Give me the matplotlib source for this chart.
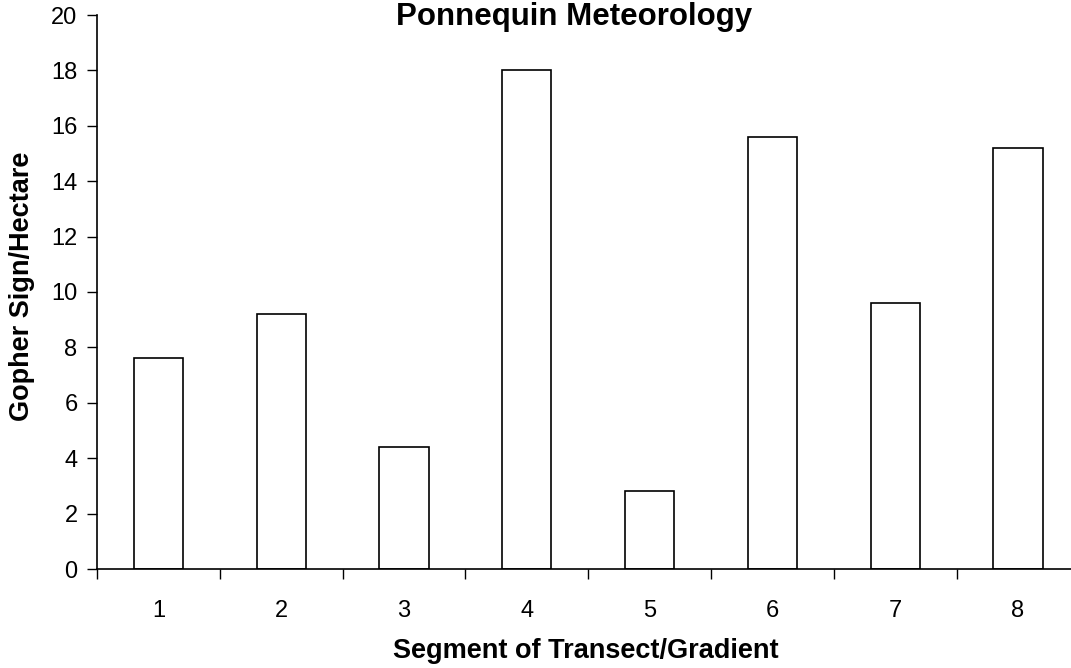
import matplotlib
matplotlib.use('Agg')
import matplotlib.pyplot as plt
import numpy as np

plt.rcParams['font.family'] = ['Liberation Sans', 'DejaVu Sans']

# data
segments = ['1', '2', '3', '4', '5', '6', '7', '8']
gopher_sign = [7.6, 9.2, 4.4, 18.0, 2.8, 15.6, 9.6, 15.2]

W, H = 1071, 668
fig = plt.figure(figsize=(W / 100, H / 100), dpi=100)

# plot area runs past the right edge of the image, like the original
left, right, top, bottom = 97, 97 + 8 * 122.8, 15, 569
ax = fig.add_axes([left / W, 1 - bottom / H, (right - left) / W, (bottom - top) / H])

x = np.arange(len(segments))
ax.bar(x, gopher_sign, width=0.4, color='white', edgecolor='black', linewidth=1.2)

ax.set_xlim(-0.5, len(segments) - 0.5)
ax.set_ylim(0, 20)
ax.set_yticks(range(0, 21, 2))
ax.set_xticks(x)
ax.set_xticklabels(segments)
ax.set_xticks(np.arange(-0.5, len(segments)), minor=True)

ax.spines['top'].set_visible(False)
ax.spines['right'].set_visible(False)
ax.spines['left'].set_linewidth(1.2)
ax.spines['bottom'].set_linewidth(1.2)

ax.tick_params(axis='y', direction='out', length=7, width=1, labelsize=17, pad=7)
ax.tick_params(axis='x', which='major', length=0, labelsize=17, pad=22)
ax.tick_params(axis='x', which='minor', direction='out', length=7, width=1)

fig.text(574 / W, 1 - 25 / H, 'Ponnequin Meteorology', ha='center', va='baseline',
         fontsize=22.5, fontweight='bold')
fig.text(586 / W, 1 - 658 / H, 'Segment of Transect/Gradient', ha='center', va='baseline',
         fontsize=19.5, fontweight='bold')
fig.text(22 / W, 1 - 286 / H, 'Gopher Sign/Hectare', ha='center', va='center',
         rotation=90, fontsize=19.5, fontweight='bold')

fig.savefig('out.png', dpi=100)
